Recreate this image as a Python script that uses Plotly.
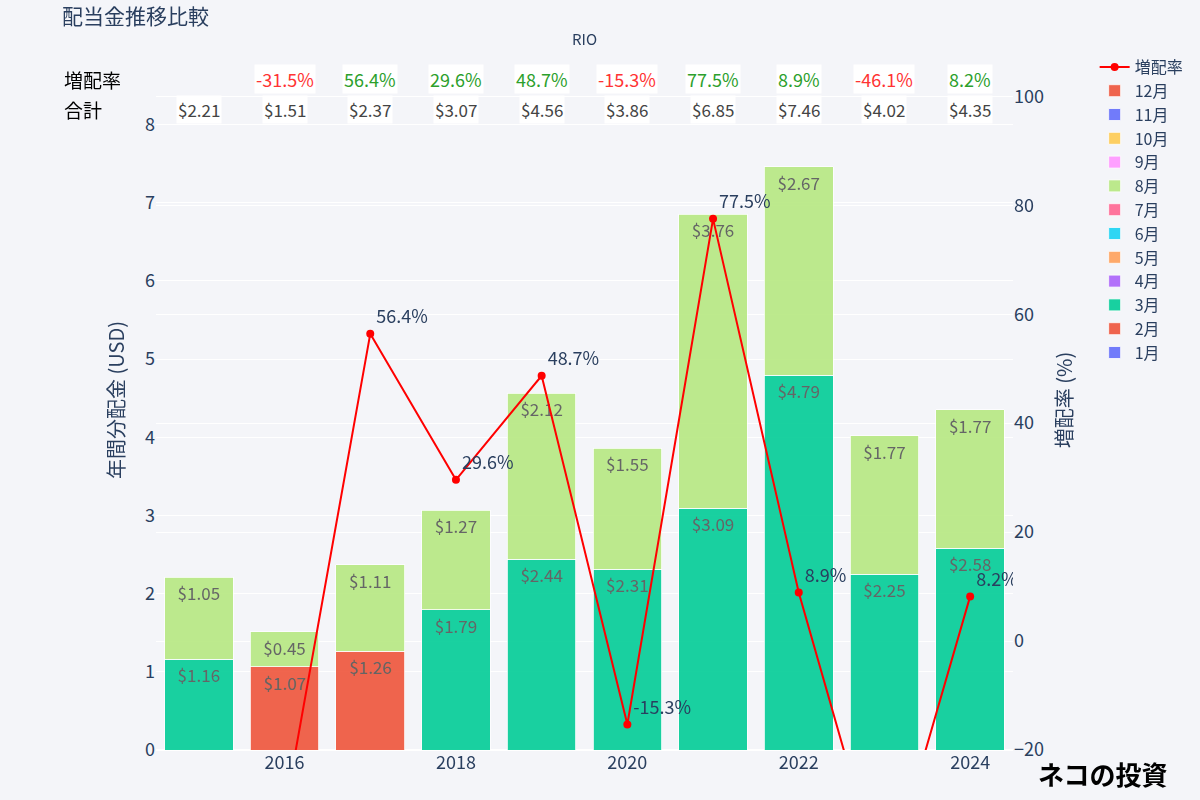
import plotly.graph_objects as go

years = [2015, 2016, 2017, 2018, 2019, 2020, 2021, 2022, 2023, 2024]
months = ["1月", "2月", "3月", "4月", "5月", "6月", "7月", "8月", "9月", "10月", "11月", "12月"]

# monthly dividends (USD); None = no payment that month
feb = [None, 1.0651, 1.26, None, None, None, None, None, None, None]
mar = [1.16, None, None, 1.794, 2.44, 2.31, 3.09, 4.79, 2.25, 2.58]
aug = [1.05, 0.4451, 1.11, 1.274, 2.12, 1.55, 3.76, 2.67, 1.77, 1.77]
empty = [None] * len(years)
month_values = {
    "1月": empty, "2月": feb, "3月": mar, "4月": empty, "5月": empty, "6月": empty,
    "7月": empty, "8月": aug, "9月": empty, "10月": empty, "11月": empty, "12月": empty,
}

growth_years = [2016, 2017, 2018, 2019, 2020, 2021, 2022, 2023, 2024]
growth = [-31.5, 56.4, 29.6, 48.7, -15.3, 77.5, 8.9, -46.1, 8.2]

colors = ["#636EFA", "#EF553B", "#00CC96", "#AB63FA", "#FFA15A", "#19D3F3",
          "#FF6692", "#B6E880", "#FF97FF", "#FECB52", "#636EFA", "#EF553B"]

totals = [sum(v[i] for v in month_values.values() if v[i] is not None) for i in range(len(years))]

W, H = 1200, 800
L, T = 156, 50
PW, PH = 858, 700

fig = go.Figure()
for m, c in zip(months, colors):
    fig.add_trace(go.Bar(
        x=years, y=month_values[m], name=m,
        marker=dict(color=c, line=dict(color="white", width=0.8)), opacity=0.9,
        texttemplate="$%{y:.2f}", textposition="inside", insidetextanchor="end",
        textfont=dict(color="#555", size=17), width=0.8,
    ))

fig.add_trace(go.Scatter(
    x=growth_years, y=growth, name="増配率", yaxis="y2",
    mode="lines+markers+text", line=dict(color="red", width=2),
    marker=dict(color="red", size=8),
    text=[f"{g:.1f}%" for g in growth], textposition="top right",
    textfont=dict(size=18, color="#2a3f5f"),
))

row1 = (750 - 79) / PH
row2 = (750 - 109) / PH
ann = []
ann.append(dict(text="増配率", x=(62 - L) / PW, xref="paper", xanchor="left", y=row1, yref="paper",
                yanchor="middle", showarrow=False, font=dict(size=19, color="black")))
ann.append(dict(text="合計", x=(62 - L) / PW, xref="paper", xanchor="left", y=row2, yref="paper",
                yanchor="middle", showarrow=False, font=dict(size=19, color="black")))
for yr, g in zip(growth_years, growth):
    ann.append(dict(text=f"{g:.1f}%", x=yr, xref="x", y=row1, yref="paper", showarrow=False,
                    font=dict(size=18, color="#FF3333" if g < 0 else "#2ca02c"),
                    bgcolor="white", yanchor="middle"))
for yr, t in zip(years, totals):
    ann.append(dict(text=f"${t:.2f}", x=yr, xref="x", y=row2, yref="paper", showarrow=False,
                    font=dict(size=17, color="#444"), bgcolor="white", yanchor="middle"))
ann.append(dict(text="RIO", x=0.5, xref="paper", y=(750 - 38) / PH, yref="paper",
                yanchor="middle", showarrow=False, font=dict(size=15, color="#2a3f5f")))
ann.append(dict(text="<b>ネコの投資</b>", x=(1170 - L) / PW, xref="paper", xanchor="right",
                y=(750 - 773) / PH, yref="paper", yanchor="middle", showarrow=False,
                font=dict(size=26, color="black", family="Noto Sans CJK JP")))

ymax = max(totals) * 1.2
y2max = max(growth) * 1.4

fig.update_layout(
    width=W, height=H,
    barmode="stack",
    title=dict(text="配当金推移比較", x=62 / W, xanchor="left", y=1 - 17 / H, yanchor="middle",
               font=dict(size=21, color="#2a3f5f")),
    font=dict(family="Noto Sans CJK JP, Noto Sans, sans-serif", color="#2a3f5f", size=16),
    paper_bgcolor="#F4F5F9", plot_bgcolor="#F4F5F9",
    margin=dict(l=L, r=W - L - PW, t=T, b=H - T - PH),
    xaxis=dict(range=[2014.5, 2024.5], dtick=2, tick0=2016, showgrid=False,
               tickfont=dict(size=18)),
    yaxis=dict(title=dict(text="年間分配金 (USD)", font=dict(size=20)), range=[0, ymax], dtick=1,
               gridcolor="white", zerolinecolor="white", zerolinewidth=2, tickfont=dict(size=18)),
    yaxis2=dict(title=dict(text="増配率 (%)", font=dict(size=20)), overlaying="y", side="right",
                range=[-20, y2max], dtick=20, gridcolor="white", showgrid=True, zeroline=False,
                tickfont=dict(size=18)),
    legend=dict(x=1.094, xanchor="left", y=1.0, yanchor="top", traceorder="reversed",
                font=dict(size=16), bgcolor="rgba(0,0,0,0)"),
    annotations=ann,
    showlegend=True,
)

fig.write_html("out.html", config={"displayModeBar": False},
               post_script="document.body.style.margin='0px';document.body.style.background='#F4F5F9';")
